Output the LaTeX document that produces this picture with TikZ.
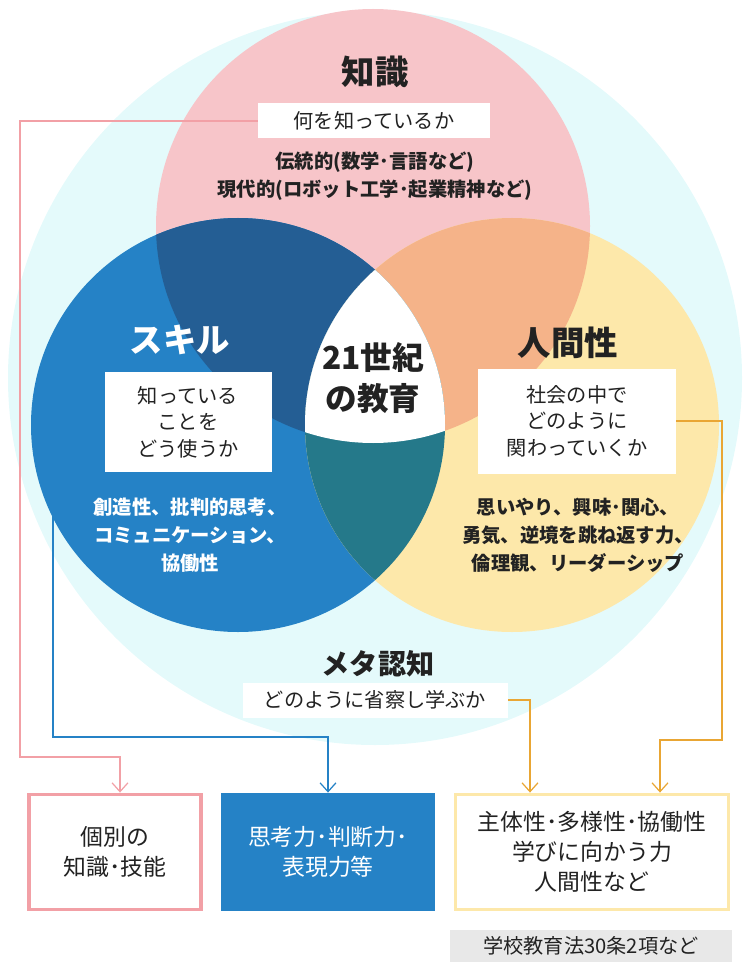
\documentclass[tikz,border=0pt]{standalone}
\usepackage{fontspec}
\setmainfont{Noto Sans CJK JP}
\usetikzlibrary{arrows.meta}
\definecolor{bgcyan}{HTML}{E4FAFB}
\definecolor{kpink}{HTML}{F7C5C9}
\definecolor{sblue}{HTML}{2582C6}
\definecolor{hyellow}{HTML}{FDE8AA}
\definecolor{pbblue}{HTML}{245E94}
\definecolor{pysalmon}{HTML}{F5B389}
\definecolor{byteal}{HTML}{25798A}
\definecolor{txt}{HTML}{222222}
\definecolor{lpink}{HTML}{F2A0A6}
\definecolor{lorange}{HTML}{E9A634}
\tikzset{
  label box/.style={fill=white, text=txt, inner sep=0pt, align=center, font=\fontsize{11.5}{15}\selectfont},
  title/.style={font=\bfseries\fontsize{19}{22}\selectfont},
  body/.style={align=center, font=\bfseries\fontsize{11}{16}\selectfont},
  conn/.style={line width=0.7pt, -{Straight Barb[length=5pt,width=9pt]}},
  result/.style={line width=2.2pt, align=center, font=\fontsize{13}{17}\selectfont, text=txt}
}
\begin{document}
\begin{tikzpicture}[x=0.02cm, y=-0.02cm]
    \useasboundingbox (0,0) rectangle (750,969);
    % Hintergrund
    \fill[bgcyan] (375,378) circle (367);
    % Kreise
    \fill[kpink] (373,226) circle (217);
    \fill[sblue] (238,425) circle (207);
    \fill[hyellow] (512,425) circle (207);
    % Schnittflaechen
    \begin{scope}
      \clip (373,226) circle (217);
      \fill[pbblue] (238,425) circle (207);
      \fill[pysalmon] (512,425) circle (207);
      \clip (238,425) circle (207);
      \fill[white] (512,425) circle (207);
    \end{scope}
    \begin{scope}
      \clip (238,425) circle (207);
      \clip (512,425) circle (207);
      \fill[byteal] (0,0) rectangle (750,969);
      \clip (373,226) circle (217);
      \fill[white] (0,0) rectangle (750,969);
    \end{scope}
    % Texte
    \node[title, text=txt] (chishiki) at (375,72) {知識};
    \node[label box, minimum width=232*0.02cm, minimum height=35*0.02cm] (what) at (374,121) {何を知っているか};
    \node[body, text=txt] (chishikitext) at (375,176) {伝統的(数学･言語など)\\現代的(ロボット工学･起業精神など)};
    \node[title, text=white] (skill) at (180,340) {スキル};
    \node[label box, minimum width=167*0.02cm, minimum height=100*0.02cm] (how) at (188,422) {知っている\\ことを\\どう使うか};
    \node[body, text=white] (skilltext) at (190,535) {創造性、批判的思考、\\コミュニケーション、\\協働性};
    \node[title, text=txt] (ningen) at (568,343) {人間性};
    \node[label box, minimum width=198*0.02cm, minimum height=105*0.02cm] (relate) at (577,421) {社会の中で\\どのように\\関わっていくか};
    \node[body, text=txt] (ningentext) at (578,535) {思いやり、興味･関心、\\勇気、逆境を跳ね返す力、\\倫理観、リーダーシップ};
    \node[title, text=txt, align=center, font=\bfseries\fontsize{18}{23}\selectfont] (center) at (373,378) {21世紀\\の教育};
    \node[title, text=txt, font=\bfseries\fontsize{16}{20}\selectfont] (meta) at (378,664) {メタ認知};
    \node[label box, minimum width=265*0.02cm, minimum height=35*0.02cm] (reflect) at (375,700) {どのように省察し学ぶか};
    % Ergebnisse
    \node[result, draw=lpink, fill=white, minimum width=172*0.02cm, minimum height=115*0.02cm] (knowledge) at (115,852) {個別の\\知識･技能};
    \node[result, draw=sblue, fill=sblue, text=white, minimum width=211*0.02cm, minimum height=115*0.02cm] (thinking) at (328,852) {思考力･判断力･\\表現力等};
    \node[result, draw=hyellow, fill=white, minimum width=273*0.02cm, minimum height=115*0.02cm] (attitude) at (592,852) {主体性･多様性･協働性\\学びに向かう力\\人間性など};
    \node[fill=black!9, text=txt, minimum width=282*0.02cm, minimum height=32*0.02cm, font=\fontsize{11.5}{14}\selectfont] (law) at (591,946) {学校教育法30条2項など};
    % Pfeile
    \draw[conn, lpink] (what.west) -| (20,757) -| ([xshift=5*0.02cm]knowledge.north);
    \draw[conn, sblue] (how.west) -| (53,737) -| (thinking.north);
    \draw[conn, lorange] (reflect.east) -| ([xshift=-62*0.02cm]attitude.north);
    \draw[conn, lorange] (relate.east) -| (722,740) -| ([xshift=68*0.02cm]attitude.north);
\end{tikzpicture}
\end{document}
